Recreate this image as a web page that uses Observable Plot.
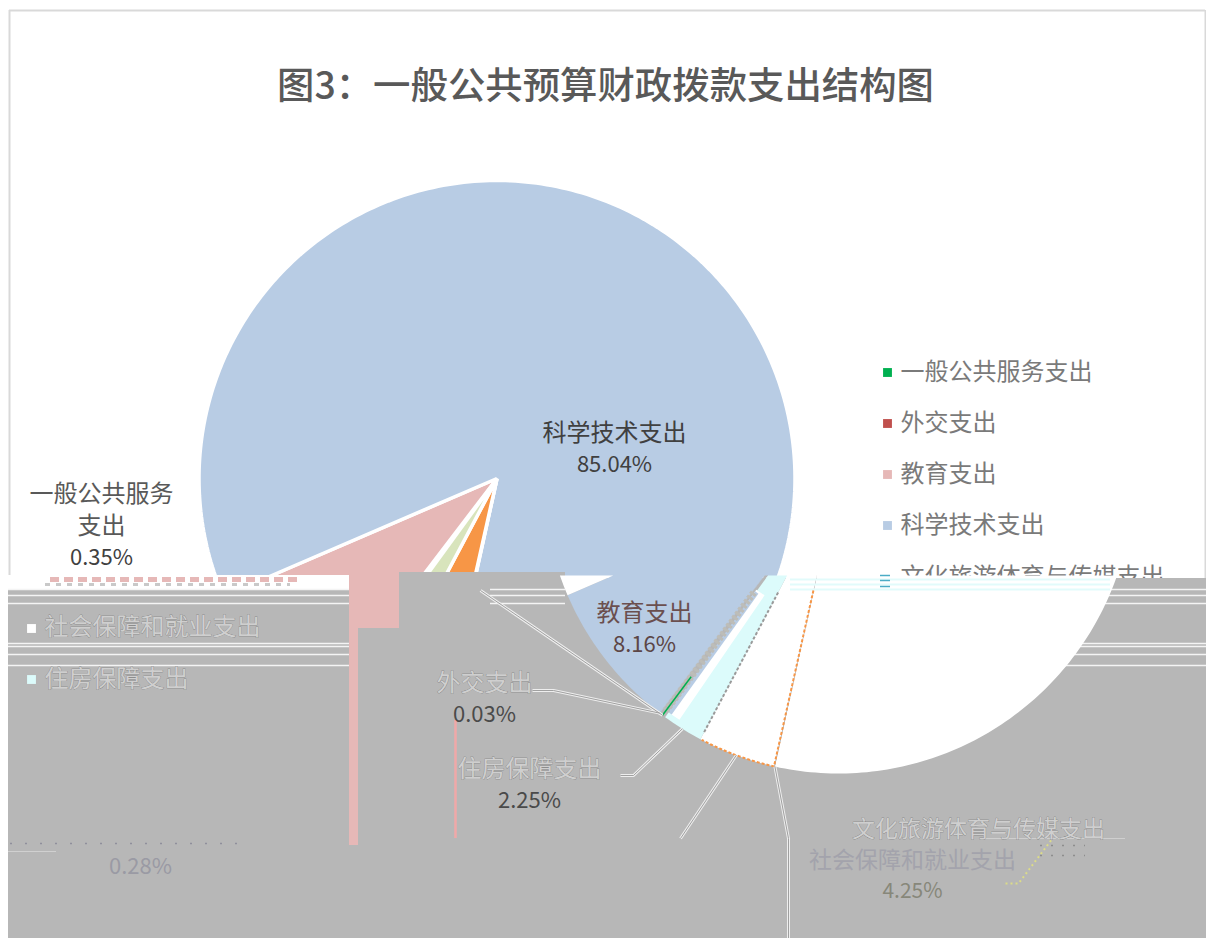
<!DOCTYPE html>
<html><head><meta charset="utf-8">
<script src="https://cdn.jsdelivr.net/npm/d3@7"></script>
<script src="https://cdn.jsdelivr.net/npm/@observablehq/plot@0.6"></script>
<style>html,body{margin:0;padding:0;background:#fff}svg{display:block}</style>
</head><body><div id="chart"></div>
<script>
const categories = ["一般公共服务支出","外交支出","教育支出","科学技术支出","文化旅游体育与传媒支出","社会保障和就业支出","住房保障支出"];
const shares = [0.35,0.03,8.16,85.04,0.05,4.25,2.25];
const shareLabels = ["0.35%","0.03%","8.16%","85.04%","","4.25%","2.25%"];
const upperColors = ["#00b050","#c0504d","#e6b8b7","#b8cce4","#4bacc6","#f79646","#d8e4bc"];
const lowerColors = ["#b7b7b7","#b8cce4","#b8cce4","#ffffff","#b7b7b7","#ffffff","#dcfbfb"];
const legendMarks = ["#00b050","#c0504d","#e6b8b7","#b8cce4"];

const GRAY = "#b7b7b7", INK = "#404040", GHOST = "#7a7a7a", SHADOW = "#cfcfcf";
const cyMain = 478, RUpper = 298, RLower = 295, cxUpper = 496.5, cxLower = 838, seam = 575, upperSeam = 578, startDeg = 216;
const total = d3.sum(shares);
let acc = startDeg;
const slices = categories.map((name,i)=>{const a0=acc; acc+=shares[i]/total*360; return {name,i,a0,a1:acc};});
const polar=(cx,deg,r)=>({x:cx+r*Math.sin(deg*Math.PI/180),y:cyMain-r*Math.cos(deg*Math.PI/180)});
function wedge(cx,s,R){
  const n=Math.max(2,Math.ceil(s.a1-s.a0));
  const arc=d3.range(n+1).map(k=>polar(cx,s.a0+(s.a1-s.a0)*k/n,R));
  const c={x:cx,y:cyMain};
  return [c,...arc,c];
}
function clipY(pts,keep,edge){
  const out=[];
  for(let i=0;i<pts.length-1;i++){
    const p=pts[i],q=pts[i+1],ip=keep(p.y),iq=keep(q.y);
    if(ip) out.push(p);
    if(ip!==iq){const t=(edge-p.y)/(q.y-p.y);out.push({x:p.x+t*(q.x-p.x),y:edge});}
  }
  if(out.length) out.push(out[0]);
  return out;
}
const above=y=>y<=upperSeam, below=y=>y>=seam;
const sliceOf=n=>slices[categories.indexOf(n)];
const mid=s=>(s.a0+s.a1)/2;
const atRow=(deg,y)=>polar(cxLower,deg,(y-cyMain)/-Math.cos(deg*Math.PI/180));
const spoke=(deg,y)=>[atRow(deg,y),polar(cxLower,deg,RLower-6)];

// rows where the picture's scan lines break up
const rows=[589,595,603,643,646,654,665];
const rowRules=[
  ...rows.map(y=>({y,x1:8,x2:349})),
  ...rows.map(y=>({y,x1:850,x2:1206})),
  ...rows.slice(0,3).map(y=>({y,x1:490,x2:565}))
];

const general=sliceOf("一般公共服务支出"), culture=sliceOf("文化旅游体育与传媒支出"),
      social=sliceOf("社会保障和就业支出"), housing=sliceOf("住房保障支出");

// leader lines: label end → slice on the displaced lower part
const leaders=[
  [{x:480,y:590},polar(cxLower,mid(general),RLower)],
  [{x:532,y:690},{x:553,y:690},polar(cxLower,mid(sliceOf("外交支出")),RLower)],
  [{x:620,y:775},{x:633,y:775},polar(cxLower,mid(housing),RLower)],
  [{x:680,y:838},polar(cxLower,mid(social),RLower)],
  [{x:788,y:938},{x:788,y:838},polar(cxLower,culture.a0,RLower)]
];
const socialEdge=[atRow(culture.a1,590),...d3.range(0,16).map(k=>polar(cxLower,social.a0+k,RLower))];

const rect=(x1,y1,x2,y2,fill)=>Plot.rect([{x1,y1,x2,y2}],{x1:"x1",y1:"y1",x2:"x2",y2:"y2",fill});
const line=(pts,o)=>Plot.line(pts,{x:"x",y:"y",strokeLinecap:"butt",...o});
const txt=(t,x,y,size,fill,extra={})=>Plot.text([{x,y,t}],{x:"x",y:"y",text:"t",fontSize:size,fill,
  fontFamily:"'Noto Sans CJK SC','Noto Sans',sans-serif",...extra});
const ghost={stroke:"#6e6e6e",strokeWidth:0.45};

const marks=[
  // frame
  Plot.ruleX([9],{y1:10,y2:590,stroke:"#d9d9d9",strokeWidth:2}),
  Plot.ruleX([1205],{y1:10,y2:590,stroke:"#d9d9d9",strokeWidth:2}),
  Plot.ruleY([10],{x1:9,x2:1205,stroke:"#d9d9d9",strokeWidth:2}),
  // upper part of the pie
  ...slices.map(s=>line(clipY(wedge(cxUpper,s,RUpper),above,upperSeam),{fill:upperColors[s.i],stroke:"#fff",strokeWidth:3.5,strokeLinejoin:"miter"})),
  // legend
  Plot.dot(categories.slice(0,4).map((n,i)=>({n,i})),{x:()=>887,y:d=>372+d.i*51,r:5,symbol:"square",fill:d=>legendMarks[d.i]}),
  ...categories.slice(0,4).map((n,i)=>txt(n,900,372+i*51,24,GHOST,{textAnchor:"start"})),
  txt(categories[4],900,577,24,GHOST,{textAnchor:"start"}),
  // band below the seam
  rect(8,seam,349,590,"#fff"),
  Plot.ruleY([579],{x1:50,x2:300,stroke:"#e6b8b7",strokeWidth:5,strokeDasharray:"9 5"}),
  Plot.ruleY([584],{x1:45,x2:290,stroke:"#c9c9c9",strokeWidth:3,strokeDasharray:"5 6"}),
  rect(8,590,349,938,GRAY),
  rect(358,628,399,938,GRAY),
  rect(399,572,565,938,GRAY),
  rect(349,845,358,938,GRAY),
  rect(349,seam,399,628,"#e6b8b7"),
  rect(349,628,358,845,"#e6b8b7"),
  rect(560,578,1206,938,GRAY),
  rect(8,845,1206,938,GRAY),
  Plot.ruleX([455],{y1:720,y2:838,stroke:"#f0a8a8",strokeWidth:2.5}),
  Plot.ruleY(rowRules,{y:"y",x1:"x1",x2:"x2",stroke:"#f4f4f4",strokeWidth:1.5}),
  // the lower part, displaced sideways and recoloured
  ...slices.map(s=>line(clipY(wedge(cxLower,s,RLower),below,seam),{fill:lowerColors[s.i]})),
  line([{x:561,y:577},{x:587,y:577},{x:568,y:587},{x:561,y:577}],{fill:"#fff"}),
  Plot.ruleY([579,584,589],{x1:790,x2:1110,stroke:"#e2fbfb",strokeWidth:2}),
  Plot.ruleY([575,580,586],{x1:880,x2:890,stroke:"#4bacc6",strokeWidth:1.5}),
  line(spoke(housing.a1-1.6,592),{stroke:"#fff",strokeWidth:10}),
  line(spoke(housing.a1-0.35,592),{stroke:"#b8cce4",strokeWidth:4}),
  line(spoke(mid(general),592),{stroke:"#bdbdb8",strokeWidth:7,strokeDasharray:"3 2"}),
  line(spoke(housing.a0,592),{stroke:"#9a9a9a",strokeWidth:2,strokeDasharray:"3 2"}),
  line(socialEdge,{stroke:"#f79646",strokeWidth:2,strokeDasharray:"3 2"}),
  line([polar(cxLower,mid(general),RLower),polar(cxLower,mid(general),RLower-48)],{stroke:"#00b050",strokeWidth:1.5}),
  // leaders
  ...leaders.map(l=>line(l,{stroke:"#eeeeee",strokeWidth:3})),
  ...leaders.map(l=>line(l,{stroke:"#a0a0a0",strokeWidth:1})),
  // broken scan lines around the lower labels
  line([{x:1005,y:883},{x:1018,y:883},{x:1052,y:838}],{stroke:"#dcdc88",strokeWidth:2,strokeDasharray:"2 3"}),
  Plot.ruleY([838],{x1:980,x2:1125,stroke:"#cfcfcf",strokeWidth:1}),
  Plot.ruleY([845,855],{x1:1040,x2:1085,stroke:"#8d8d8d",strokeWidth:1.5,strokeDasharray:"2 9"}),
  Plot.ruleY([843],{x1:10,x2:250,stroke:"#8f8f9c",strokeWidth:1.5,strokeDasharray:"2 13"}),
  Plot.ruleY([851],{x1:8,x2:56,stroke:"#d0d0d0",strokeWidth:1}),
  // title
  txt("图3：一般公共预算财政拨款支出结构图",605,87,37.4,"#595959",{fontWeight:500}),
  // labels
  txt(categories[3],614,433,24,INK), txt(shareLabels[3],614,464,22,INK),
  txt("一般公共服务",101,494,24,"#595959"), txt("支出",101,526,24,"#595959"), txt(shareLabels[0],101,557,22,INK),
  txt(categories[2],644,613,24,"#6b4f4f"), txt(shareLabels[2],644,644,22,"#5c4646"),
  txt(categories[1],484,683,24,SHADOW,ghost), txt(shareLabels[1],484,714,22,"#4a4a4a"),
  txt(categories[6],529,769,24,SHADOW,ghost), txt(shareLabels[6],529,800,22,"#4a4a4a"),
  txt(categories[4],978,829,23,SHADOW,ghost),
  txt(categories[5],912,860,23,"#a3a3ac"), txt(shareLabels[5],912,891,21,"#87877a"),
  txt("0.28%",140,866,22,"#9a9aa4"),
  // legend entries stranded in the grey
  Plot.dot([0,1],{x:()=>31,y:i=>628+i*51,r:5,symbol:"square",fill:i=>["#fff","#dcfbfb"][i]}),
  txt(categories[5],44,627,24,SHADOW,{textAnchor:"start",...ghost}),
  txt(categories[6],44,679,24,SHADOW,{textAnchor:"start",...ghost})
];
const chart=Plot.plot({width:1206,height:938,margin:0,
  x:{domain:[0,1206],range:[0,1206],axis:null},
  y:{domain:[0,938],range:[0,938],axis:null},
  style:{background:"#fff"},marks});
document.getElementById("chart").append(chart);
</script></body></html>
